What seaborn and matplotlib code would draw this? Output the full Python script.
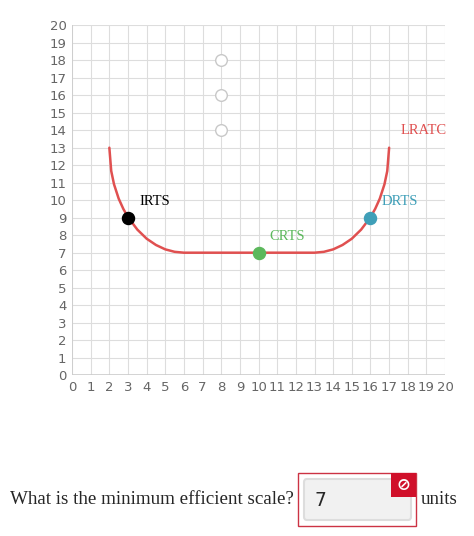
import matplotlib
matplotlib.use("Agg")
import matplotlib.pyplot as plt
import seaborn as sns
import pandas as pd
from matplotlib.patches import FancyBboxPatch, Rectangle

sns.set_theme(style="white")
plt.rcParams['font.family'] = ['DejaVu Sans']

curve_x = [2, 2.1, 2.25, 2.5, 2.75, 3, 3.5, 4, 4.5, 5, 5.5, 6,
           13, 13.5, 14, 14.5, 15, 15.5, 16, 16.25, 16.5, 16.75, 16.9, 17]
curve_y = [13, 11.67, 10.91, 10.09, 9.50, 9.03, 8.32, 7.80, 7.44, 7.19, 7.05, 7,
           7, 7.05, 7.19, 7.44, 7.80, 8.32, 9.03, 9.50, 10.09, 10.91, 11.67, 13]
pts_x = [3, 10, 16]
pts_y = [9, 7, 9]
pts_lab = ["IRTS", "CRTS", "DRTS"]
pts_col = ["#000000", "#5cb85c", "#3f9fb8"]
hollow_x = [8, 8, 8]
hollow_y = [18, 16, 14]
answer = "7"

fig = plt.figure(figsize=(4.74, 5.36), dpi=100)
ax = fig.add_axes([0.152, 0.30, 0.787, 0.653])
df = pd.DataFrame({"x": curve_x, "y": curve_y})
sns.lineplot(data=df, x="x", y="y", ax=ax, color="#e05050", lw=1.8, sort=False)
ax.scatter(hollow_x, hollow_y, s=70, facecolor="white", edgecolor="#c8c8c8", lw=1, zorder=3)
for x, y, l, c in zip(pts_x, pts_y, pts_lab, pts_col):
    ax.scatter([x], [y], s=75, color=c, zorder=4)
for x, y, l, c in zip(pts_x, pts_y, pts_lab, pts_col):
    ax.text(x + 0.6, y + 0.7, l, color=c, fontsize=10.5, family="Liberation Serif")
ax.text(17.6, 13.8, "LRATC", color="#e05050", fontsize=10.5, family="Liberation Serif")
ax.set_xlim(0, 20); ax.set_ylim(0, 20)
ax.set_xticks(range(21)); ax.set_yticks(range(21))
ax.tick_params(labelsize=9.5, colors="#666666", length=0, pad=4)
ax.grid(True, color="#dddddd", lw=0.8)
ax.set_xlabel(""); ax.set_ylabel("")
for s in ax.spines.values():
    s.set_visible(False)
ax.axhline(0, color="#cccccc", lw=1.2)
ax.axvline(0, color="#cccccc", lw=1.2)

fig.text(10/474, 1-500/536, "What is the minimum efficient scale?", fontsize=13.7,
         family="Liberation Serif", va="center")
fig.patches.append(Rectangle((298/474, 1-526/536), 118/474, 53/536, transform=fig.transFigure,
                             facecolor="none", edgecolor="#cc3344", lw=1))
fig.patches.append(FancyBboxPatch((304/474, 1-520/536), 107/474, 41/536, transform=fig.transFigure,
                                  boxstyle="round,pad=0,rounding_size=0.006",
                                  facecolor="#f1f1f1", edgecolor="#dddddd", lw=1.5))
fig.patches.append(Rectangle((391/474, 1-497/536), 25/474, 24/536, transform=fig.transFigure,
                             facecolor="#d0102a", edgecolor="none"))
fig.text(403.5/474, 1-485/536, "⊘", color="white", fontsize=12, fontweight="bold", ha="center", va="center")
fig.text(314/474, 1-500/536, answer, fontsize=13.5, va="center")
fig.text(421/474, 1-500/536, "units", fontsize=13.7, family="Liberation Serif", va="center")

fig.savefig("out.png", dpi=100)
